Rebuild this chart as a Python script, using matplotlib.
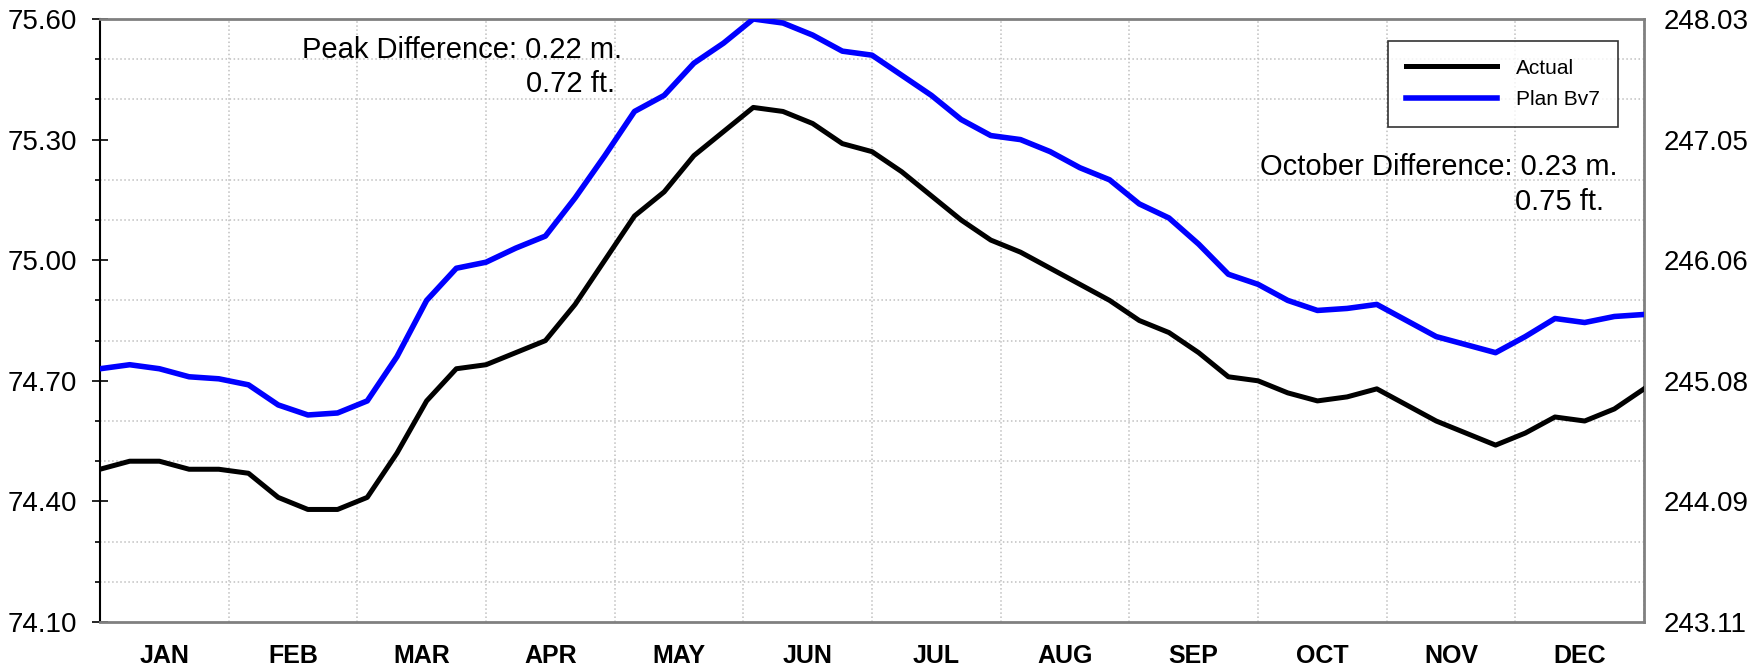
import numpy as np
import matplotlib
matplotlib.use("Agg")
import matplotlib.pyplot as plt
from matplotlib.ticker import FixedLocator, NullFormatter

plt.rcParams['font.family'] = ['Liberation Sans', 'DejaVu Sans']

# weekly elevations (m)
weeks = list(range(53))
actual = [74.48, 74.50, 74.50, 74.48, 74.48, 74.47, 74.41, 74.38, 74.38, 74.41,
          74.52, 74.65, 74.73, 74.74, 74.77, 74.80, 74.89, 75.00, 75.11, 75.17,
          75.26, 75.32, 75.38, 75.37, 75.34, 75.29, 75.27, 75.22, 75.16, 75.10,
          75.05, 75.02, 74.98, 74.94, 74.90, 74.85, 74.82, 74.77, 74.71, 74.70,
          74.67, 74.65, 74.66, 74.68, 74.64, 74.60, 74.57, 74.54, 74.57, 74.61,
          74.60, 74.63, 74.68]
plan_bv7 = [74.73, 74.74, 74.73, 74.71, 74.705, 74.69, 74.64, 74.615, 74.62, 74.65,
            74.76, 74.90, 74.98, 74.995, 75.03, 75.06, 75.155, 75.26, 75.37, 75.41,
            75.49, 75.54, 75.60, 75.59, 75.56, 75.52, 75.51, 75.46, 75.41, 75.35,
            75.31, 75.30, 75.27, 75.23, 75.20, 75.14, 75.105, 75.04, 74.965, 74.94,
            74.90, 74.875, 74.88, 74.89, 74.85, 74.81, 74.79, 74.77, 74.81, 74.855,
            74.845, 74.86, 74.865]
months = ['JAN', 'FEB', 'MAR', 'APR', 'MAY', 'JUN',
          'JUL', 'AUG', 'SEP', 'OCT', 'NOV', 'DEC']
y_labels_m = [74.10, 74.40, 74.70, 75.00, 75.30, 75.60]
M_TO_FT = 3.28084

fig = plt.figure(figsize=(17.64, 6.71), dpi=100)
ax = fig.add_axes([0.0567, 0.073, 0.8753, 0.8987])

ax.plot(weeks, actual, color='black', lw=3.6, label='Actual', zorder=3)
ax.plot(weeks, plan_bv7, color='#0000ff', lw=4.0, label='Plan Bv7', zorder=3)

ax.set_xlim(0, 52)
ax.set_ylim(74.10, 75.60)

# month grid + labels
span = 52 / 12
ax.xaxis.set_major_locator(FixedLocator([span * k for k in range(13)]))
ax.xaxis.set_major_formatter(NullFormatter())
ax.xaxis.set_minor_locator(FixedLocator([span * (k + 0.5) for k in range(12)]))
ax.set_xticklabels(months, minor=True)
ax.tick_params(axis='x', which='both', length=0, pad=16, labelsize=18)
for lbl in ax.get_xticklabels(minor=True):
    lbl.set_fontweight('bold')

# y axis
ax.yaxis.set_major_locator(FixedLocator(y_labels_m))
ax.yaxis.set_minor_locator(FixedLocator(np.arange(74.10, 75.61, 0.1)))
ax.set_yticklabels([f"{v:.2f}" for v in y_labels_m])
ax.tick_params(axis='y', which='major', direction='inout', length=11, width=1.2,
               labelsize=20, pad=11)
ax.tick_params(axis='y', which='minor', direction='out', length=3.6, width=1.2)

ax.grid(True, which='major', axis='x', color='#c0c0c0', ls=':', lw=1.1)
ax.grid(True, which='minor', axis='y', color='#c0c0c0', ls=':', lw=1.1)

for side in ['top', 'bottom', 'right']:
    ax.spines[side].set_color('#808080')
    ax.spines[side].set_linewidth(2)
ax.spines['left'].set_color('black')
ax.spines['left'].set_linewidth(1.5)

# right axis in feet
ax2 = ax.twinx()
ax2.set_ylim(74.10, 75.60)
ax2.yaxis.set_major_locator(FixedLocator(y_labels_m))
ax2.set_yticklabels([f"{v * M_TO_FT:.2f}" for v in y_labels_m])
ax2.tick_params(axis='y', length=0, labelsize=20, pad=14)
for side in ['top', 'bottom', 'right', 'left']:
    ax2.spines[side].set_visible(False)

# annotations
ax.text(0.338, 0.935, "Peak Difference: 0.22 m.", transform=ax.transAxes,
        ha='right', va='baseline', fontsize=21)
ax.text(0.3335, 0.879, "0.72 ft.", transform=ax.transAxes,
        ha='right', va='baseline', fontsize=21)
ax.text(0.9825, 0.741, "October Difference: 0.23 m.", transform=ax.transAxes,
        ha='right', va='baseline', fontsize=21)
ax.text(0.974, 0.683, "0.75 ft.", transform=ax.transAxes,
        ha='right', va='baseline', fontsize=21)

leg = ax.legend(loc='upper right', bbox_to_anchor=(0.983, 0.9635), fontsize=15,
                frameon=True, fancybox=False, handlelength=4.4, borderpad=0.85,
                labelspacing=0.6, handletextpad=0.9, borderaxespad=0)
leg.get_frame().set_edgecolor('black')
leg.get_frame().set_linewidth(1.2)

fig.savefig('out.png', dpi=100)
